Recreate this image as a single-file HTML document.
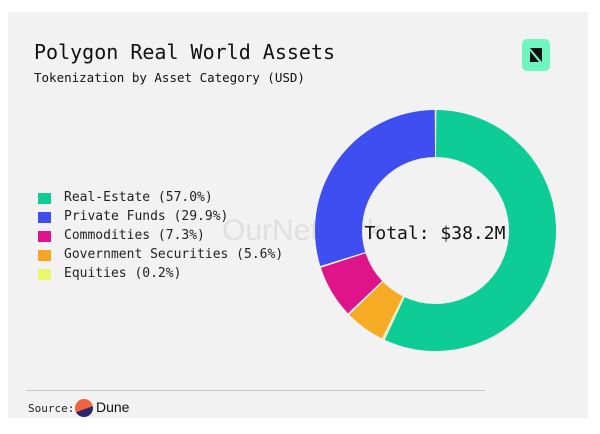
<!DOCTYPE html>
<html><head><meta charset="utf-8"><style>
body{margin:0;width:600px;height:434px;background:#fff;position:relative;overflow:hidden;font-family:"DejaVu Sans Mono","Liberation Mono",monospace}
.card{position:absolute;left:8px;top:12px;width:580px;height:406px;background:#f2f2f2}
.t{position:absolute;left:34px;top:40px;font-size:20px;color:#111}
.s{position:absolute;left:34px;top:70px;font-size:12.5px;color:#111}
.logo{position:absolute;left:522px;top:39px;width:28px;height:32px;border-radius:5px;background:#6ff5c0}
.lg{position:absolute;left:38px;font-size:13px;color:#222}
.lg i{position:absolute;left:0;top:3px;width:13px;height:11px}
.lg span{position:absolute;left:26px;top:0;white-space:nowrap}
.wm{position:absolute;left:222px;top:214px;font-family:"Liberation Sans",sans-serif;font-size:30px;color:#e0e0e0}
.hr{position:absolute;left:26px;top:390px;width:459px;height:1px;background:#c8c8c8}
.src{position:absolute;left:28px;top:402px;font-size:11px;color:#222}
.dune{position:absolute;left:75px;top:399px;width:18px;height:18px;border-radius:50%;background:linear-gradient(160deg,#f0623e 55%,#2b2770 56%)}
.dt{position:absolute;left:96px;top:399px;font-family:"Liberation Sans",sans-serif;font-size:14px;color:#111}
</style></head><body>
<div class="card"></div>
<div class="t">Polygon Real World Assets</div>
<div class="s">Tokenization by Asset Category (USD)</div>
<div class="logo"><svg width="28" height="32"><polygon points="8,9 20,9 20,23" fill="#111"/><polygon points="8,12 17,23 8,23" fill="#111"/></svg></div>
<div class="wm">OurNetwork</div>
<div class="lg" style="top:190px"><i style="background:#0fcb94"></i><span>Real-Estate (57.0%)</span></div>
<div class="lg" style="top:209px"><i style="background:#3f4ef0"></i><span>Private Funds (29.9%)</span></div>
<div class="lg" style="top:228px"><i style="background:#e0148a"></i><span>Commodities (7.3%)</span></div>
<div class="lg" style="top:247px"><i style="background:#f5a623"></i><span>Government Securities (5.6%)</span></div>
<div class="lg" style="top:266px"><i style="background:#eaf76a"></i><span>Equities (0.2%)</span></div>
<svg style="position:absolute;left:0;top:0" width="600" height="434">
<g transform="rotate(-90 435.5 230.5)" fill="none" stroke-width="47">
<circle cx="435.5" cy="230.5" r="97" stroke="#0dcc96" stroke-dasharray="346 263.5" stroke-dashoffset="-0.7"/>
<circle cx="435.5" cy="230.5" r="97" stroke="#eaf76a" stroke-dasharray="0.8 608.7" stroke-dashoffset="-347.8"/>
<circle cx="435.5" cy="230.5" r="97" stroke="#f5ab24" stroke-dasharray="32.6 576.9" stroke-dashoffset="-349.3"/>
<circle cx="435.5" cy="230.5" r="97" stroke="#e0148a" stroke-dasharray="43 566.5" stroke-dashoffset="-383.4"/>
<circle cx="435.5" cy="230.5" r="97" stroke="#3f4ef0" stroke-dasharray="180.7 428.8" stroke-dashoffset="-427.9"/>
</g>
<text x="435" y="239" text-anchor="middle" font-family="DejaVu Sans Mono,monospace" font-size="18" fill="#111">Total: $38.2M</text>
</svg>
<div class="hr"></div>
<div class="src">Source:</div>
<div class="dune"></div>
<div class="dt">Dune</div>
</body></html>
